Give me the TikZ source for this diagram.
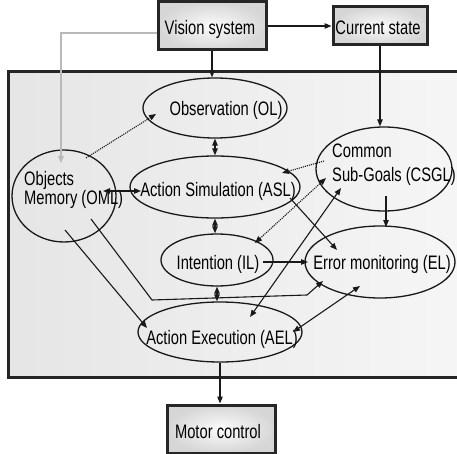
\documentclass[tikz,border=0pt]{standalone}
\usepackage{fontspec}
\setmainfont{Liberation Sans}[FakeStretch=0.755]
\usetikzlibrary{arrows.meta,shapes.geometric,calc}
\begin{document}
\begin{tikzpicture}[x=1pt,y=-1pt,
  font=\fontsize{19.5}{18}\selectfont,
  ell/.style={draw=black!90, line width=1.3pt, ellipse, inner sep=0pt},
  boxnode/.style={draw=black!85, line width=3pt, inner color=gray!3, outer color=gray!32, rectangle, inner sep=0pt},
  lbl/.style={inner sep=0pt, text=black},
  conn/.style={draw=black!90, line width=1.1pt, -{Triangle[length=7pt,width=5.5pt]}},
  bconn/.style={draw=black!90, line width=1.1pt, {Triangle[length=7pt,width=5.5pt]}-{Triangle[length=7pt,width=5.5pt]}},
  dconn/.style={conn, densely dotted},
  dbconn/.style={bconn, densely dotted},
  gconn/.style={draw=gray!55, line width=1.2pt, -{Triangle[length=7pt,width=5.5pt]}}
]
\useasboundingbox (0,0) rectangle (457,454);
% main frame
\path[left color=gray!20, right color=gray!7] (8,72) rectangle (470,377);
\draw[black!85, line width=3pt] (470,72) -- (8,72) -- (8,377) -- (470,377);

% boxes
\node[boxnode, minimum width=108pt, minimum height=48pt] (vision) at (212,26) {};
\node[boxnode, minimum width=94pt, minimum height=38pt] (current) at (380,26) {};
\node[boxnode, minimum width=108pt, minimum height=48pt] (motor) at (221,429) {};
\node[lbl] (tvision) at (210,29) {Vision system};
\node[lbl] (tcurrent) at (378,28) {Current state};
\node[lbl] (tmotor) at (218,432) {Motor control};

% ellipses
\node[ell, minimum width=144pt, minimum height=60pt] (ol) at (215,108) {};
\node[ell, minimum width=170pt, minimum height=62pt] (asl) at (215,187) {};
\node[ell, minimum width=112pt, minimum height=52pt] (il) at (217,260) {};
\node[ell, minimum width=150pt, minimum height=72pt] (el) at (380,262) {};
\node[ell, minimum width=164pt, minimum height=60pt] (ael) at (220,332) {};
\node[ell, minimum width=104pt, minimum height=92pt] (oml) at (64,196) {};
\node[ell, minimum width=136pt, minimum height=84pt] (csgl) at (384,169) {};

\node[lbl] (tol) at (226,110) {Observation (OL)};
\node[lbl] (tasl) at (218,191) {Action Simulation (ASL)};
\node[lbl] (til) at (218,264) {Intention (IL)};
\node[lbl] (tel) at (382,264) {Error monitoring (EL)};
\node[lbl] (tael) at (222,339) {Action Execution (AEL)};
\node[lbl, anchor=north west, align=left, font=\fontsize{19.5}{18}\selectfont] (toml) at (24,171) {Objects\\Memory (OML)};
\node[lbl, anchor=north west, align=left, font=\fontsize{19.5}{23.5}\selectfont] (tcsgl) at (332,144) {Common\\Sub-Goals (CSGL)};

% coordinates
\coordinate (omltop) at (61,163);
\coordinate (bend1) at (152,300);
\coordinate (bend2) at (307,295);

% connectors
\draw[conn] (vision.south) -- (vision.south |- ol.north);
\draw[conn] (vision.east) -- (current.west);
\draw[gconn] ([yshift=-7pt]vision.west) -| (omltop);
\draw[conn] (current.south) -- (current.south |- csgl.north);
\draw[dconn] ($(oml)+(22,-38)$) -- ($(ol)+(-59,6)$);
\draw[bconn] (ol.south) -- (asl.north);
\draw[bconn] ($(oml)+(39,-5)$) -- ($(asl)+(-74,4)$);
\draw[bconn] (asl.south) -- (asl.south |- il.north);
\draw[dconn] ($(csgl)+(-60,-8)$) -- ($(asl)+(67,-14)$);
\draw[dbconn] ($(il)+(38,-17)$) -- ($(csgl)+(-58,9)$);
\draw[conn] ($(asl)+(75,11)$) -- ($(el)+(-43,-12)$);
\draw[conn] ($(csgl)+(2,27)$) -- ($(el)+(6,-35)$);
\draw[conn] ($(il)+(46,2)$) -- ($(el)+(-72,0)$);
\draw[bconn] (il.south) -- (il.south |- ael.north);
\draw[conn] ($(oml)+(1,34)$) -- ($(ael)+(-73,-4)$);
\draw[conn] ($(oml)+(27,23)$) -- (bend1) -- (bend2) -- ($(el)+(-57,19)$);
\draw[bconn] ($(ael)+(30,-15)$) -- ($(csgl)+(-43,19)$);
\draw[bconn] ($(el)+(-20,24)$) -- ($(ael)+(73,0)$);
\draw[conn] (ael.south) -- (ael.south |- motor.north);
\end{tikzpicture}
\end{document}
